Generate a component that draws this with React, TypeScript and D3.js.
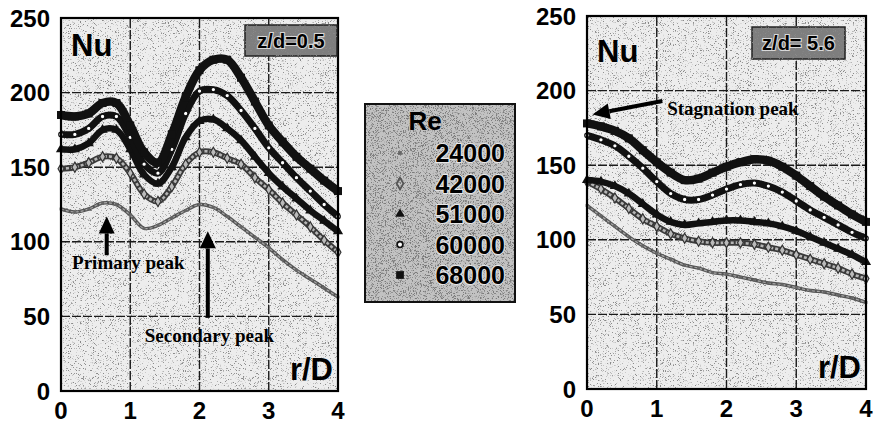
import React from 'react';
import * as d3 from 'd3';

const rPoints = [0, 0.2, 0.4, 0.6, 0.8, 1.0, 1.2, 1.4, 1.6, 1.8, 2.0, 2.2, 2.4, 2.6, 2.8, 3.0, 3.2, 3.4, 3.6, 3.8, 4.0];

const reLabels = ['24000', '42000', '51000', '60000', '68000'];
const xTicks = [0, 1, 2, 3, 4];
const yTicks = [0, 50, 100, 150, 200, 250];

// z/d = 0.5
const near24000 = [122, 120, 122, 126, 125, 118, 109, 111, 116, 121, 125, 123, 117, 110, 103, 96, 88, 81, 75, 69, 63];
const near42000 = [149, 150, 153, 157, 156, 146, 132, 127, 137, 152, 160, 160, 156, 152, 143, 135, 126, 118, 110, 101, 93];
const near51000 = [162, 162, 166, 175, 175, 162, 145, 139, 150, 170, 181, 182, 176, 168, 157, 146, 137, 129, 121, 114, 107];
const near60000 = [172, 172, 176, 184, 184, 170, 152, 146, 162, 186, 201, 202, 198, 188, 176, 163, 153, 143, 134, 125, 117];
const near68000 = [185, 184, 186, 193, 193, 178, 160, 153, 172, 197, 215, 222, 222, 210, 194, 178, 167, 157, 149, 141, 134];

// z/d = 5.6
const far24000 = [123, 116, 109, 102, 96, 91, 87, 83, 81, 78, 77, 75, 73, 71, 70, 68, 66, 65, 63, 61, 58];
const far42000 = [139, 134, 128, 121, 114, 109, 104, 101, 99, 98, 98, 98, 97, 95, 93, 90, 87, 84, 81, 77, 74];
const far51000 = [140, 139, 136, 131, 124, 117, 112, 110, 111, 112, 113, 113, 112, 111, 109, 106, 102, 98, 94, 90, 85];
const far60000 = [170, 167, 163, 156, 148, 139, 131, 127, 127, 130, 134, 137, 138, 136, 132, 126, 120, 115, 110, 105, 101];
const far68000 = [178, 176, 173, 168, 160, 152, 145, 140, 141, 145, 149, 152, 154, 153, 149, 143, 136, 129, 123, 117, 112];

const nearSeries = [near24000, near42000, near51000, near60000, near68000];
const farSeries = [far24000, far42000, far51000, far60000, far68000];

type Style = {
  outer: string; outerW: number; inner?: string; innerW?: number;
  symbol: d3.SymbolType; size: number; fill: string; stroke: string;
};

const styles: Style[] = [
  { outer: '#555', outerW: 3.5, inner: '#a8a8a8', innerW: 1.2, symbol: d3.symbolSquare, size: 8, fill: '#666', stroke: 'none' },
  { outer: '#3a3a3a', outerW: 6, inner: '#b5b5b5', innerW: 2.6, symbol: d3.symbolDiamond, size: 30, fill: '#bbb', stroke: '#333' },
  { outer: '#111', outerW: 6.5, symbol: d3.symbolTriangle, size: 45, fill: '#111', stroke: 'none' },
  { outer: '#111', outerW: 7, symbol: d3.symbolCircle, size: 16, fill: '#fff', stroke: '#111' },
  { outer: '#111', outerW: 8.5, symbol: d3.symbolSquare, size: 64, fill: '#111', stroke: 'none' },
];

const sans = '"Liberation Sans", Arial, sans-serif';
const serif = '"Liberation Serif", "Times New Roman", serif';

type Note = { text: string; tx: number; tv: number; from: [number, number]; to: [number, number] };

function Arrow({ x1, y1, x2, y2 }: { x1: number; y1: number; x2: number; y2: number }) {
  const ang = Math.atan2(y2 - y1, x2 - x1);
  const hl = 17, hw = 8;
  const bx = x2 - hl * Math.cos(ang), by = y2 - hl * Math.sin(ang);
  const px = -Math.sin(ang) * hw, py = Math.cos(ang) * hw;
  return (
    <g>
      <line x1={x1} y1={y1} x2={bx} y2={by} stroke="#000" strokeWidth={4} />
      <polygon points={`${x2},${y2} ${bx + px},${by + py} ${bx - px},${by - py}`} fill="#000" />
    </g>
  );
}

function Panel({ x0, x1, yb, yt, series, label, labelBox, notes }: {
  x0: number; x1: number; yb: number; yt: number; series: number[][];
  label: string; labelBox: [number, number, number, number]; notes: Note[];
}) {
  const x = d3.scaleLinear().domain([0, 4]).range([x0, x1]);
  const y = d3.scaleLinear().domain([0, 250]).range([yb, yt]);
  const line = d3.line<number>().x((_, i) => x(rPoints[i])).y(d => y(d)).curve(d3.curveCatmullRom.alpha(0.5));
  const [bx, by, bw, bh] = labelBox;
  return (
    <g>
      <rect x={x(0)} y={y(250)} width={x(4) - x(0)} height={y(0) - y(250)} fill="#ededed" />
      <rect x={x(0)} y={y(250)} width={x(4) - x(0)} height={y(0) - y(250)} fill="#000" filter="url(#speckle)" />
      {xTicks.slice(1, -1).map(t => (
        <line key={'gx' + t} x1={x(t)} x2={x(t)} y1={y(0)} y2={y(250)} stroke="#1a1a1a" strokeWidth={1.4} strokeDasharray="9,2" />
      ))}
      {yTicks.slice(1, -1).map(t => (
        <line key={'gy' + t} x1={x(0)} x2={x(4)} y1={y(t)} y2={y(t)} stroke="#1a1a1a" strokeWidth={1.4} strokeDasharray="9,2" />
      ))}
      {series.map((vals, si) => {
        const s = styles[si];
        const sym = d3.symbol().type(s.symbol).size(s.size)()!;
        return (
          <g key={si}>
            <path d={line(vals)!} fill="none" stroke={s.outer} strokeWidth={s.outerW} strokeLinejoin="round" />
            {s.inner && <path d={line(vals)!} fill="none" stroke={s.inner} strokeWidth={s.innerW} strokeDasharray="3,2" />}
            {vals.map((v, i) => (
              <path key={i} d={sym} transform={`translate(${x(rPoints[i])},${y(v)})`} fill={s.fill} stroke={s.stroke} strokeWidth={1.2} />
            ))}
          </g>
        );
      })}
      <rect x={x(0)} y={y(250)} width={x(4) - x(0)} height={y(0) - y(250)} fill="none" stroke="#000" strokeWidth={2.2} />
      {xTicks.map(t => (
        <text key={'tx' + t} x={x(t)} y={y(0) + 28} textAnchor="middle" fontFamily={sans} fontWeight="bold" fontSize={24}>{t}</text>
      ))}
      {yTicks.map(t => (
        <text key={'ty' + t} x={x(0) - 11} y={y(t) + 8.5} textAnchor="end" fontFamily={sans} fontWeight="bold" fontSize={24}>{t}</text>
      ))}
      <text x={x(0) + 10} y={y(250) + (label.includes('5.6') ? 46 : 38)} fontFamily={sans} fontWeight="bold" fontSize={31}>Nu</text>
      <text x={x(4) - 5} y={y(0) - 11} textAnchor="end" fontFamily={sans} fontWeight="bold" fontSize={31}>r/D</text>
      <rect x={bx} y={by} width={bw} height={bh} fill="#7e7e7e" stroke="#222" strokeWidth={1.5} />
      <rect x={bx} y={by} width={bw} height={bh} fill="#000" filter="url(#speckle)" />
      <text x={bx + bw / 2} y={by + bh / 2 + 7} textAnchor="middle" fontFamily={sans} fontWeight="bold" fontSize={20}
        stroke="#d8d8d8" strokeWidth={2.2} paintOrder="stroke">{label}</text>
      {notes.map((n, i) => (
        <g key={'n' + i}>
          <Arrow x1={x(n.from[0])} y1={y(n.from[1])} x2={x(n.to[0])} y2={y(n.to[1])} />
          <text x={x(n.tx)} y={y(n.tv) + 6} fontFamily={serif} fontWeight="bold" fontSize={19}>{n.text}</text>
        </g>
      ))}
    </g>
  );
}

function Legend() {
  const top = 104, left = 365, w = 150, h = 198;
  const rowY = d3.scalePoint<string>().domain(reLabels).range([153, 275]);
  return (
    <g>
      <rect x={left} y={top} width={w} height={h} fill="#c2c2c2" />
      <rect x={left} y={top} width={w} height={h} fill="#000" filter="url(#speckle2)" />
      <rect x={left} y={top} width={w} height={h} fill="none" stroke="#111" strokeWidth={2} />
      <text x={425} y={130} textAnchor="middle" fontFamily={sans} fontWeight="bold" fontSize={26}>Re</text>
      {reLabels.map((lab, i) => {
        const s = styles[i];
        const legendSize = [14, 40, 40, 26, 60][i];
        return (
          <g key={lab}>
            <path d={d3.symbol().type(s.symbol).size(legendSize)()!} transform={`translate(400,${rowY(lab)})`}
              fill={i === 1 ? 'none' : s.fill} stroke={i === 1 ? '#555' : i === 3 ? '#111' : 'none'} strokeWidth={1.8} />
            <text x={505} y={rowY(lab)! + 9} textAnchor="end" fontFamily={sans} fontWeight="bold" fontSize={25}
              stroke="#e8e8e8" strokeWidth={2} paintOrder="stroke">{lab}</text>
          </g>
        );
      })}
    </g>
  );
}

export default function App() {
  const nearNotes: Note[] = [
    { text: 'Primary peak', tx: 0.16, tv: 86, from: [0.66, 91], to: [0.66, 117] },
    { text: 'Secondary peak', tx: 1.21, tv: 37, from: [2.12, 49], to: [2.12, 107] },
  ];
  const farNotes: Note[] = [
    { text: 'Stagnation peak', tx: 1.15, tv: 188, from: [1.08, 193], to: [0.08, 184] },
  ];
  return (
    <svg width={876} height={426} style={{ position: 'absolute', left: 0, top: 0, background: '#fff' }}>
      <defs>
        <filter id="speckle" x="0" y="0" width="100%" height="100%">
          <feTurbulence type="fractalNoise" baseFrequency="1.6" numOctaves={1} seed={7} result="n" />
          <feColorMatrix in="n" type="matrix" values="0 0 0 0 0.25  0 0 0 0 0.25  0 0 0 0 0.25  9 0 0 0 -5.3" />
        </filter>
        <filter id="speckle2" x="0" y="0" width="100%" height="100%">
          <feTurbulence type="fractalNoise" baseFrequency="1.6" numOctaves={1} seed={3} result="n" />
          <feColorMatrix in="n" type="matrix" values="0 0 0 0 0.2  0 0 0 0 0.2  0 0 0 0 0.2  8 0 0 0 -4.2" />
        </filter>
      </defs>
      <Panel x0={61} x1={338} yb={391} yt={18} series={nearSeries} label="z/d=0.5" labelBox={[245, 25, 92, 31]} notes={nearNotes} />
      <Panel x0={587} x1={866} yb={389} yt={16} series={farSeries} label="z/d= 5.6" labelBox={[752, 27, 93, 32]} notes={farNotes} />
      <Legend />
    </svg>
  );
}
